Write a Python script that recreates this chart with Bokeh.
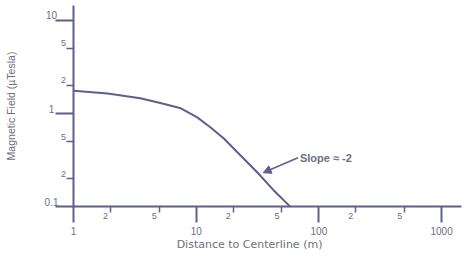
from bokeh.plotting import figure
from bokeh.models import Range1d, FixedTicker, Arrow, NormalHead, Label
from bokeh.embed import file_html
from bokeh.resources import INLINE

# ---- data ----
distance_m = [1, 1.9, 3.5, 5.1, 7.5, 10.2, 13.1, 16.8, 23, 31.4, 42.9, 58.7]
field_ut = [1.76, 1.64, 1.46, 1.30, 1.14, 0.91, 0.71, 0.54, 0.355, 0.235, 0.15, 0.1]

x_major_ticks = [1, 10, 100, 1000]
x_major_labels = ["1", "10", "100", "1000"]
x_minor_ticks = [2, 5, 20, 50, 200, 500]
x_minor_labels = ["2", "5", "2", "5", "2", "5"]

y_major_ticks = [0.1, 1, 10]
y_major_labels = ["0.1", "1", "10"]
y_minor_ticks = [0.2, 0.5, 2, 5]
y_minor_labels = ["2", "5", "2", "5"]

X_AXIS_SPAN = (1, 1450)
Y_AXIS_SPAN = (0.1, 14.4)

x_title = "Distance to Centerline (m)"
y_title = "Magnetic Field (\u00b5Tesla)"
note_text = "Slope \u2248 -2"

LINE = "#5d5f8e"
TEXT = "#6e6e80"
FONT = "Liberation Sans"

p = figure(width=466, height=260, x_axis_type="log", y_axis_type="log",
           x_range=Range1d(0.254, 1596), y_range=Range1d(0.0266, 16.3),
           output_backend="svg", toolbar_location=None,
           min_border_left=0, min_border_right=0, min_border_top=0,
           min_border_bottom=0)
p.outline_line_color = None
p.grid.visible = False
p.background_fill_color = "white"
p.border_fill_color = "white"

p.line(distance_m, field_ut, line_color=LINE, line_width=2)

# axes, drawn at the origin of the log-log frame
xa = p.xaxis[0]
xa.fixed_location = Y_AXIS_SPAN[0]
xa.bounds = X_AXIS_SPAN
xa.ticker = FixedTicker(ticks=x_major_ticks, minor_ticks=x_minor_ticks)
xa.major_label_overrides = {t: "" for t in x_major_ticks}
xa.axis_line_color = LINE
xa.axis_line_width = 2
xa.major_tick_line_color = LINE
xa.major_tick_line_width = 2
xa.major_tick_out = 16
xa.major_tick_in = 0
xa.minor_tick_line_color = LINE
xa.minor_tick_line_width = 1.5
xa.minor_tick_out = 6
xa.minor_tick_in = 0

ya = p.yaxis[0]
ya.fixed_location = X_AXIS_SPAN[0]
ya.bounds = Y_AXIS_SPAN
ya.ticker = FixedTicker(ticks=y_major_ticks, minor_ticks=y_minor_ticks)
ya.major_label_overrides = {t: "" for t in y_major_ticks}
ya.axis_line_color = LINE
ya.axis_line_width = 2
ya.major_tick_line_color = LINE
ya.major_tick_line_width = 2
ya.major_tick_out = 18
ya.major_tick_in = 0
ya.minor_tick_line_color = LINE
ya.minor_tick_line_width = 1.5
ya.minor_tick_out = 7
ya.minor_tick_in = 0
ya.axis_label = y_title
ya.axis_label_text_font = FONT
ya.axis_label_text_font_style = "normal"
ya.axis_label_text_font_size = "10.5px"
ya.axis_label_text_color = TEXT
ya.axis_label_standoff = 39


def add_labels(xs, ys, texts, dx, dy, size="9px"):
    for xv, yv, t in zip(xs, ys, texts):
        p.add_layout(Label(x=xv, y=yv, text=t, x_offset=dx, y_offset=dy,
                           text_align="center", text_baseline="middle",
                           text_font=FONT, text_font_size=size,
                           text_color=TEXT))


add_labels(x_major_ticks, [Y_AXIS_SPAN[0]] * len(x_major_ticks), x_major_labels, 0, -24, "10px")
add_labels(x_minor_ticks, [Y_AXIS_SPAN[0]] * len(x_minor_ticks), x_minor_labels, -5, -9)
add_labels([X_AXIS_SPAN[0]] * len(y_major_ticks), y_major_ticks, y_major_labels, -22, 5, "10px")
add_labels([X_AXIS_SPAN[0]] * len(y_minor_ticks), y_minor_ticks, y_minor_labels, -10, 5)

# x axis title (centred where the reference has it)
p.add_layout(Label(x=27.2, y=Y_AXIS_SPAN[0], y_offset=-38, text=x_title,
                   text_align="center", text_baseline="middle",
                   text_font="DejaVu Sans", text_font_size="11px",
                   text_color=TEXT))

# annotation
p.add_layout(Arrow(end=NormalHead(size=8, fill_color=LINE, line_color=LINE),
                   x_start=67.5, y_start=0.336, x_end=35.1, y_end=0.232,
                   line_color=LINE, line_width=1.5))
p.add_layout(Label(x=70, y=0.33, text=note_text, text_align="left",
                   text_baseline="middle", text_font=FONT,
                   text_font_size="11px", text_font_style="bold",
                   text_color=TEXT))

open("out.html", "w").write(file_html(p, INLINE))
